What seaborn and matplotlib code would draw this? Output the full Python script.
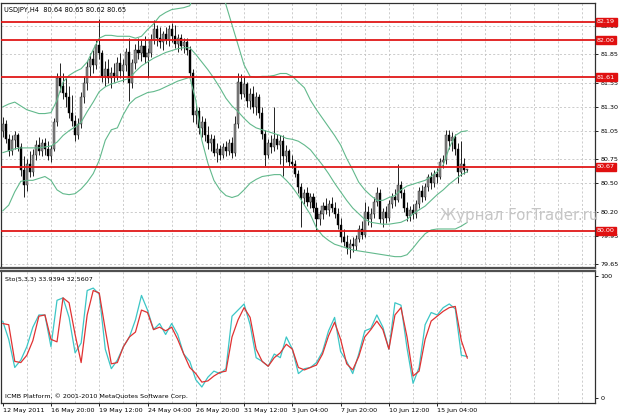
import numpy as np
import pandas as pd
import matplotlib
matplotlib.use("Agg")
import matplotlib.pyplot as plt
import matplotlib.transforms as mtrans
import seaborn as sns

sns.set_style("white")
plt.rcParams['font.family'] = ['DejaVu Sans']

# ---------------- data (USDJPY H4) ----------------
opens = [81.05, 81.12, 80.96, 80.84, 80.95, 81.00, 80.88, 80.64, 80.48, 80.70,
         80.62, 80.80, 80.90, 80.84, 80.92, 80.86, 80.78, 80.86, 81.14, 81.60,
         81.52, 81.45, 81.40, 81.24, 81.15, 81.00, 81.12, 81.40, 81.55, 81.72,
         81.80, 81.74, 81.95, 81.86, 81.62, 81.70, 81.60, 81.66, 81.62, 81.76,
         81.68, 81.74, 81.88, 81.55, 81.76, 81.90, 81.86, 81.94, 81.82, 81.86,
         82.00, 82.12, 82.02, 81.98, 82.06, 82.00, 82.12, 82.04, 81.96, 82.02,
         81.94, 81.98, 81.90, 81.66, 81.22, 81.26, 81.08, 81.14, 81.00, 80.92,
         80.96, 80.82, 80.86, 80.80, 80.88, 80.84, 80.92, 80.82, 81.12, 81.56,
         81.44, 81.54, 81.36, 81.44, 81.30, 81.40, 81.24, 81.02, 80.80, 80.92,
         80.88, 80.96, 80.90, 80.94, 80.78, 80.84, 80.72, 80.70, 80.60, 80.46,
         80.34, 80.40, 80.30, 80.36, 80.24, 80.12, 80.18, 80.26, 80.22, 80.28,
         80.24, 80.18, 80.06, 79.94, 79.88, 79.82, 79.86, 79.84, 79.92, 80.02,
         79.96, 80.20, 80.12, 80.18, 80.30, 80.40, 80.12, 80.20, 80.14, 80.28,
         80.36, 80.32, 80.48, 80.40, 80.24, 80.16, 80.22, 80.18, 80.28, 80.42,
         80.36, 80.46, 80.56, 80.50, 80.60, 80.56, 80.72, 80.74, 81.00, 80.94,
         80.98, 80.86, 80.62, 80.70, 80.64]
highs = [81.19, 81.16, 81.02, 81.00, 81.05, 81.03, 80.92, 80.78, 80.75, 80.84,
         80.86, 80.95, 80.98, 80.96, 80.97, 80.94, 80.90, 81.18, 81.66, 81.76,
         81.66, 81.60, 81.52, 81.42, 81.22, 81.18, 81.46, 81.62, 81.78, 81.86,
         81.90, 82.00, 82.22, 81.90, 81.78, 81.80, 81.72, 81.76, 81.82, 81.86,
         81.80, 81.92, 82.02, 81.80, 81.96, 82.02, 82.00, 82.04, 81.92, 82.06,
         82.21, 82.16, 82.14, 82.10, 82.14, 82.16, 82.18, 82.16, 82.06, 82.06,
         82.02, 82.02, 81.94, 81.70, 81.32, 81.30, 81.20, 81.18, 81.10, 81.02,
         81.00, 80.92, 80.90, 80.92, 80.94, 80.96, 80.98, 81.20, 81.66, 81.64,
         81.62, 81.56, 81.50, 81.52, 81.46, 81.44, 81.30, 81.06, 80.96, 81.00,
         81.30, 81.02, 81.00, 81.00, 80.90, 80.86, 80.80, 80.74, 80.64, 80.50,
         80.44, 80.46, 80.40, 80.40, 80.30, 80.22, 80.30, 80.34, 80.32, 80.36,
         80.30, 80.24, 80.14, 80.02, 79.96, 79.92, 79.94, 79.96, 80.06, 80.10,
         80.30, 80.26, 80.24, 80.36, 80.46, 80.44, 80.24, 80.26, 80.32, 80.40,
         80.44, 80.70, 80.52, 80.44, 80.30, 80.26, 80.28, 80.32, 80.46, 80.48,
         80.50, 80.60, 80.62, 80.64, 80.66, 80.76, 80.80, 81.06, 81.06, 81.04,
         81.02, 80.92, 80.94, 80.76, 80.65]
lows = [80.98, 80.92, 80.78, 80.80, 80.86, 80.84, 80.58, 80.36, 80.42, 80.56,
        80.58, 80.74, 80.80, 80.78, 80.80, 80.74, 80.72, 80.84, 81.10, 81.46,
        81.38, 81.30, 81.18, 81.10, 80.94, 80.96, 81.08, 81.34, 81.48, 81.62,
        81.66, 81.70, 81.80, 81.56, 81.52, 81.55, 81.50, 81.56, 81.58, 81.60,
        81.56, 81.68, 81.36, 81.50, 81.70, 81.80, 81.78, 81.76, 81.60, 81.82,
        81.96, 81.94, 81.92, 81.90, 81.96, 81.94, 81.98, 81.92, 81.88, 81.90,
        81.86, 81.84, 81.62, 81.14, 81.12, 81.02, 80.98, 80.94, 80.86, 80.84,
        80.78, 80.72, 80.74, 80.76, 80.78, 80.80, 80.76, 80.78, 81.08, 81.38,
        81.40, 81.30, 81.28, 81.24, 81.22, 81.18, 80.96, 80.68, 80.76, 80.82,
        80.84, 80.86, 80.70, 80.58, 80.72, 80.68, 80.66, 80.56, 80.40, 80.04,
        80.28, 80.26, 80.24, 80.20, 80.00, 80.06, 80.12, 80.18, 80.16, 80.20,
        80.14, 80.02, 79.88, 79.84, 79.76, 79.72, 79.78, 79.80, 79.88, 79.92,
        79.94, 80.06, 80.04, 80.14, 80.26, 80.08, 80.04, 80.08, 80.10, 80.24,
        80.26, 80.30, 80.34, 80.20, 80.10, 80.10, 80.12, 80.14, 80.24, 80.30,
        80.32, 80.42, 80.44, 80.46, 80.50, 80.54, 80.66, 80.70, 80.86, 80.84,
        80.80, 80.50, 80.58, 80.60, 80.62]
closes = [81.12, 80.96, 80.84, 80.95, 81.00, 80.88, 80.64, 80.48, 80.70, 80.62,
          80.80, 80.90, 80.84, 80.92, 80.86, 80.78, 80.86, 81.14, 81.60, 81.52,
          81.45, 81.40, 81.24, 81.15, 81.00, 81.12, 81.40, 81.55, 81.72, 81.80,
          81.74, 81.95, 81.86, 81.62, 81.70, 81.60, 81.66, 81.62, 81.76, 81.68,
          81.74, 81.88, 81.55, 81.76, 81.90, 81.86, 81.94, 81.82, 81.86, 82.00,
          82.12, 82.02, 81.98, 82.06, 82.00, 82.12, 82.04, 81.96, 82.02, 81.94,
          81.98, 81.90, 81.66, 81.22, 81.26, 81.08, 81.14, 81.00, 80.92, 80.96,
          80.82, 80.86, 80.80, 80.88, 80.84, 80.92, 80.82, 81.12, 81.56, 81.44,
          81.54, 81.36, 81.44, 81.30, 81.40, 81.24, 81.02, 80.80, 80.92, 80.88,
          80.96, 80.90, 80.94, 80.78, 80.84, 80.72, 80.70, 80.60, 80.46, 80.34,
          80.40, 80.30, 80.36, 80.24, 80.12, 80.18, 80.26, 80.22, 80.28, 80.24,
          80.18, 80.06, 79.94, 79.88, 79.82, 79.86, 79.84, 79.92, 80.02, 79.96,
          80.20, 80.12, 80.18, 80.30, 80.40, 80.12, 80.20, 80.14, 80.28, 80.36,
          80.32, 80.48, 80.40, 80.24, 80.16, 80.22, 80.18, 80.28, 80.42, 80.36,
          80.46, 80.56, 80.50, 80.60, 80.56, 80.72, 80.74, 81.00, 80.94, 80.98,
          80.86, 80.62, 80.70, 80.64, 80.65]

# Bollinger bands sampled every second bar
band_bars = list(range(0, 155, 2))
upper_band = [81.30, 81.33, 81.35, 81.31, 81.27, 81.25, 81.23, 81.23, 81.24, 81.37,
              81.56, 81.63, 81.67, 81.70, 81.77, 81.90, 82.02, 82.05, 82.05, 82.04,
              82.04, 82.04, 82.02, 82.04, 82.11, 82.17, 82.25, 82.29, 82.32, 82.33,
              82.34, 82.36, 82.53, 82.79, 82.89, 82.84, 82.63, 82.37, 82.16, 81.95,
              81.74, 81.62, 81.61, 81.62, 81.62, 81.63, 81.65, 81.65, 81.62, 81.56,
              81.50, 81.37, 81.27, 81.18, 81.09, 81.00, 80.90, 80.76, 80.64, 80.51,
              80.43, 80.37, 80.32, 80.32, 80.35, 80.37, 80.43, 80.47, 80.49, 80.51,
              80.53, 80.57, 80.62, 80.69, 80.87, 81.00, 81.04, 81.05]
middle_band = [80.82, 80.84, 80.86, 80.87, 80.87, 80.87, 80.87, 80.88, 80.89, 80.93,
               81.00, 81.05, 81.09, 81.14, 81.25, 81.35, 81.46, 81.51, 81.54, 81.56,
               81.58, 81.60, 81.67, 81.73, 81.77, 81.81, 81.84, 81.87, 81.89, 81.91,
               81.92, 81.92, 81.85, 81.77, 81.69, 81.60, 81.50, 81.39, 81.31, 81.25,
               81.18, 81.12, 81.08, 81.06, 81.04, 81.02, 81.00, 80.97, 80.96, 80.94,
               80.90, 80.85, 80.77, 80.69, 80.60, 80.50, 80.41, 80.32, 80.24, 80.18,
               80.12, 80.09, 80.08, 80.07, 80.07, 80.08, 80.09, 80.12, 80.18, 80.22,
               80.26, 80.32, 80.38, 80.43, 80.49, 80.54, 80.59, 80.62]
lower_band = [80.21, 80.27, 80.41, 80.52, 80.53, 80.53, 80.55, 80.57, 80.53, 80.43,
              80.39, 80.38, 80.39, 80.44, 80.51, 80.60, 80.74, 80.95, 81.06, 81.08,
              81.22, 81.33, 81.39, 81.42, 81.45, 81.46, 81.48, 81.51, 81.54, 81.57,
              81.59, 81.61, 81.37, 80.95, 80.71, 80.53, 80.43, 80.37, 80.35, 80.37,
              80.43, 80.50, 80.54, 80.57, 80.58, 80.59, 80.59, 80.53, 80.46, 80.37,
              80.27, 80.17, 80.03, 79.95, 79.90, 79.86, 79.84, 79.82, 79.80, 79.79,
              79.78, 79.77, 79.76, 79.75, 79.74, 79.73, 79.73, 79.75, 79.82, 79.90,
              79.97, 80.01, 80.02, 80.02, 80.02, 80.02, 80.05, 80.09]

# Stochastic (5,3,3) sampled every second bar
stoch_main = [63, 48, 25, 31, 42, 58, 68, 68, 42, 80,
              82, 66, 37, 45, 88, 90, 85, 40, 24, 31,
              42, 50, 64, 84, 72, 56, 61, 52, 61, 52,
              36, 30, 15, 9, 17, 22, 20, 24, 67, 72,
              77, 60, 33, 30, 26, 36, 33, 50, 40, 20,
              24, 25, 29, 38, 55, 66, 38, 30, 20, 36,
              55, 57, 68, 58, 40, 78, 76, 41, 12, 25,
              60, 70, 68, 74, 77, 73, 35, 33.94]
stoch_signal = [61, 60, 30, 29, 35, 47, 67, 68, 48, 46,
                82, 78, 52, 29, 68, 88, 86, 56, 28, 29,
                42, 50, 54, 72, 70, 56, 58, 55, 58, 48,
                36, 25, 20, 13, 14, 18, 21, 22, 50, 64,
                74, 66, 40, 30, 26, 33, 37, 44, 40, 25,
                23, 25, 27, 36, 51, 62, 48, 28, 23, 34,
                50, 56, 63, 56, 40, 68, 74, 50, 18, 22,
                48, 63, 67, 71, 74, 75, 47, 32.56]

level_lines = [82.19, 82.00, 81.61, 80.67, 80.00]
price_ticks = [82.15, 81.85, 81.55, 81.30, 81.05, 80.75, 80.50, 80.20, 79.95, 79.65]
time_tick_bars = [0, 16, 32, 48, 64, 80, 96, 112, 128, 144]
time_labels = ['12 May 2011', '16 May 20:00', '19 May 12:00', '24 May 04:00',
               '26 May 20:00', '31 May 12:00', '3 Jun 04:00', '7 Jun 20:00',
               '10 Jun 12:00', '15 Jun 04:00']

# ---------------- figure ----------------
W, H = 623, 416
fig = plt.figure(figsize=(W / 100, H / 100), dpi=100)
fig.patch.set_facecolor('white')
ax = fig.add_axes([1 / W, 1 - 268 / H, 594 / W, 265 / H])
ax2 = fig.add_axes([1 / W, 1 - 403 / H, 594 / W, 132 / H])

XMIN, XMAX = -0.56, 196.3
FS = 4.6
grid_kw = dict(color='#c4c4c4', lw=0.6, ls=(0, (2.5, 2.5)), zorder=0)

for a in (ax, ax2):
    a.set_facecolor('white')
    a.set_xlim(XMIN, XMAX)
    for s in a.spines.values():
        s.set_color('#303030')
        s.set_linewidth(0.9)
    for gx in range(8, 197, 8):
        a.axvline(gx, **grid_kw)
ax.spines['bottom'].set_linewidth(1.6)
ax.spines['bottom'].set_color('#505050')
ax2.spines['top'].set_linewidth(1.6)
ax2.spines['top'].set_color('#505050')

# main panel
ax.set_ylim(79.611, 82.389)
for p in price_ticks:
    ax.axhline(p, **grid_kw)

n = len(closes)
bars = np.arange(n)
o = np.array(opens); h = np.array(highs); l = np.array(lows); c = np.array(closes)
ax.vlines(bars, l, h, color='black', lw=0.6, zorder=2)
up = c >= o
body_h = np.maximum(np.abs(c - o), 0.006)
body_b = np.minimum(o, c)
ax.bar(bars[up], body_h[up], bottom=body_b[up], width=0.7, color='#8a8a8a',
       edgecolor='#202020', linewidth=0.3, zorder=3)
ax.bar(bars[~up], body_h[~up], bottom=body_b[~up], width=0.7, color='black',
       edgecolor='black', linewidth=0.3, zorder=3)

bands = pd.DataFrame({'bar': band_bars, 'upper': upper_band,
                      'middle': middle_band, 'lower': lower_band})
for col in ['upper', 'middle', 'lower']:
    sns.lineplot(data=bands, x='bar', y=col, ax=ax, color='#62b98c',
                 linewidth=0.8, legend=False, zorder=4)

for lv in level_lines:
    ax.axhline(lv, color='#e01818', lw=1.3, zorder=5)

ax.set_xlabel(''); ax.set_ylabel('')
ax.set_xticks([])
ax.set_yticks(price_ticks)
ax.set_yticklabels([f'{p:.2f}' for p in price_ticks])
ax.yaxis.tick_right()
ax.tick_params(axis='y', which='both', right=True, left=False, length=2.5,
               width=0.6, pad=1.5, labelsize=FS, colors='black')

tr = mtrans.blended_transform_factory(ax.transAxes, ax.transData)
for lv in level_lines:
    ax.text(1.0035, lv, f'{lv:.2f}', transform=tr, ha='left', va='center',
            fontsize=FS, color='white', zorder=10, clip_on=False,
            bbox=dict(boxstyle='square,pad=0.22', fc='#e01010', ec='#e01010'))

ax.text(0.005, 0.985, 'USDJPY,H4  80.64 80.65 80.62 80.65', transform=ax.transAxes,
        ha='left', va='top', fontsize=4.8, color='black', zorder=11)

# stochastic panel
ax2.set_ylim(-4.1, 104)
stoch = pd.DataFrame({'bar': band_bars, 'main': stoch_main, 'signal': stoch_signal})
sns.lineplot(data=stoch, x='bar', y='main', ax=ax2, color='#3cc6c6',
             linewidth=0.9, legend=False, zorder=3)
sns.lineplot(data=stoch, x='bar', y='signal', ax=ax2, color='#e03232',
             linewidth=0.9, legend=False, zorder=4)
ax2.set_xlabel(''); ax2.set_ylabel('')
ax2.set_yticks([0, 100])
ax2.set_yticklabels(['0', '100'])
ax2.yaxis.tick_right()
ax2.tick_params(axis='y', right=True, left=False, length=2.5, width=0.6,
                pad=1.5, labelsize=FS, colors='black')
ax2.set_xticks(time_tick_bars)
ax2.set_xticklabels(time_labels)
for lab in ax2.get_xticklabels():
    lab.set_ha('left')
ax2.tick_params(axis='x', bottom=True, length=2.5, width=0.6, pad=1.0,
                labelsize=FS, colors='black')

ax2.text(0.007, 0.955, 'Sto(5,3,3) 33.9394 32.5607', transform=ax2.transAxes,
         ha='left', va='top', fontsize=FS, color='black')
ax2.text(0.007, 0.03, 'ICMB Platform, \u00a9 2001-2010 MetaQuotes Software Corp.',
         transform=ax2.transAxes, ha='left', va='bottom', fontsize=FS, color='black')

fig.text(440 / W, 1 - 220 / H, 'Журнал ForTrader.ru', ha='left', va='baseline',
         fontsize=10.8, color='#c6c6c6', zorder=20)

fig.savefig('out.png', dpi=100, facecolor='white')
